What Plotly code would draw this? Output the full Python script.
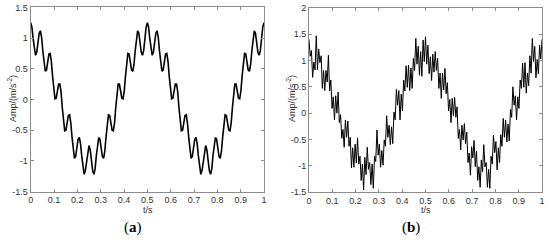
import plotly.graph_objects as go

# sampling step of both records (s)
dt = 1 / 192

# (a) clean vibration signal
amp_a = [1.25, 1.18, .99, .80, .72, .77, .92, 1.08, 1.12, 1.01, .79, .57, .46, .48, .61, .74,
         .75, .62, .38, .14, .01, .02, .13, .25, .25, .12, -.13, -.38, -.51, -.50, -.38, -.26,
         -.25, -.38, -.61, -.84, -.96, -.93, -.79, -.65, -.62, -.72, -.92, -1.13, -1.22, -1.16, -.99, -.82,
         -.75, -.82, -.99, -1.16, -1.22, -1.13, -.92, -.72, -.62, -.65, -.79, -.93, -.96, -.84, -.61, -.38,
         -.25, -.26, -.38, -.50, -.51, -.38, -.13, .12, .25, .25, .13, .02, .01, .14, .38, .62,
         .75, .74, .61, .48, .46, .57, .79, 1.01, 1.12, 1.08, .92, .77, .72, .80, .99, 1.18,
         1.25, 1.18, .99, .80, .72, .77, .92, 1.08, 1.12, 1.01, .79, .57, .46, .48, .61, .74,
         .75, .62, .38, .14, .01, .02, .13, .25, .25, .12, -.13, -.38, -.51, -.50, -.38, -.26,
         -.25, -.38, -.61, -.84, -.96, -.93, -.79, -.65, -.62, -.72, -.92, -1.13, -1.22, -1.16, -.99, -.82,
         -.75, -.82, -.99, -1.16, -1.22, -1.13, -.92, -.72, -.62, -.65, -.79, -.93, -.96, -.84, -.61, -.38,
         -.25, -.26, -.38, -.50, -.51, -.38, -.13, .12, .25, .25, .13, .02, .01, .14, .38, .62,
         .75, .74, .61, .48, .46, .57, .79, 1.01, 1.12, 1.08, .92, .77, .72, .80, .99, 1.18,
         1.25]

# (b) noisy record
amp_b = [1.40, 1.08, 1.19, .68, .97, .82, 1.47, .83, 1.22, .96, 1.09, .47, .81, .43, .81, .59,
         1.10, .42, .63, .09, .31, -.13, .33, .00, .40, -.18, -.03, -.48, -.31, -.65, -.13, -.46,
         -.15, -.63, -.46, -1.04, -.66, -1.03, -.59, -.95, -.47, -.97, -.82, -1.28, -.97, -1.46, -.84, -1.17,
         -.65, -1.07, -.94, -1.36, -.97, -1.43, -.82, -.92, -.32, -.80, -.59, -1.03, -.71, -.99, -.51, -.63,
         -.05, -.46, -.23, -.60, -.26, -.58, .02, -.13, .45, .15, .43, -.13, .36, .04, .63, .42,
         .90, .49, .91, .43, .86, .47, 1.04, .81, 1.42, .93, 1.27, .72, 1.17, .70, 1.39, .98,
         1.45, .93, 1.29, .75, 1.07, .62, 1.12, .78, 1.17, .81, 1.04, .47, .76, .28, .76, .44,
         .85, .37, .58, .04, .26, -.18, .28, -.05, .30, -.08, .12, -.48, -.31, -.70, -.23, -.51,
         -.20, -.58, -.36, -.94, -.76, -1.18, -.64, -.85, -.52, -1.02, -.72, -1.28, -1.02, -1.41, -.89, -1.12,
         -.60, -1.02, -.94, -1.41, -1.07, -1.43, -.82, -.97, -.42, -.75, -.54, -1.08, -.66, -.94, -.41, -.63,
         -.10, -.46, -.13, -.55, -.21, -.53, .07, -.08, .50, .15, .33, -.13, .31, .09, .63, .47,
         .95, .49, .96, .38, .76, .52, 1.09, .76, 1.42, .98, 1.27, .67, 1.02, .75, 1.29, 1.03,
         1.40]

t_a = [i * dt for i in range(len(amp_a))]
t_b = [i * dt for i in range(len(amp_b))]

x_ticks = [0, 0.1, 0.2, 0.3, 0.4, 0.5, 0.6, 0.7, 0.8, 0.9, 1]
x_labels = ['0', '0.1', '0.2', '0.3', '0.4', '0.5', '0.6', '0.7', '0.8', '0.9', '1']
ya_ticks = [-1.5, -1, -0.5, 0, 0.5, 1, 1.5]
ya_labels = ['-1.5', '-1', '-0.5', '0', '0.5', '1', '1.5']
yb_ticks = [-1.5, -1, -0.5, 0, 0.5, 1, 1.5, 2]
yb_labels = ['-1.5', '-1', '-0.5', '0', '0.5', '1', '1.5', '2']

fig = go.Figure()
fig.add_trace(go.Scatter(x=t_a, y=amp_a, mode='lines', line=dict(color='black', width=1.6),
                         xaxis='x', yaxis='y', showlegend=False))
fig.add_trace(go.Scatter(x=t_b, y=amp_b, mode='lines', line=dict(color='black', width=1),
                         xaxis='x2', yaxis='y2', showlegend=False))

axis_style = dict(showline=True, linecolor='#8c8c8c', linewidth=1, mirror='allticks',
                  ticks='inside', ticklen=3, tickcolor='#8c8c8c', showgrid=False, zeroline=False,
                  automargin=False,
                  tickfont=dict(family='Liberation Sans', size=9, color='#333333'))

fig.update_layout(
    width=550, height=240,
    margin=dict(l=0, r=0, t=0, b=0, autoexpand=False),
    paper_bgcolor='white', plot_bgcolor='white',
    xaxis=dict(domain=[0.0558, 0.48], range=[0, 1], tickvals=x_ticks, ticktext=x_labels,
               anchor='y', **axis_style),
    yaxis=dict(domain=[0.202, 0.969], range=[-1.5, 1.5], tickvals=ya_ticks, ticktext=ya_labels,
               anchor='x', **axis_style),
    xaxis2=dict(domain=[0.5618, 0.9855], range=[0, 1], tickvals=x_ticks, ticktext=x_labels,
                anchor='y2', **axis_style),
    yaxis2=dict(domain=[0.2, 0.967], range=[-1.5, 2], tickvals=yb_ticks, ticktext=yb_labels,
                anchor='x2', **axis_style),
)

label_font = dict(family='Liberation Sans', size=9, color='#333333')
for xc, xl in [(12, 148), (291, 426)]:
    fig.add_annotation(text='Amp/(m/s<sup>-2</sup>)', x=xc / 550, y=0.5875, xref='paper', yref='paper',
                       xanchor='center', yanchor='middle', textangle=-90, showarrow=False,
                       font=label_font)
    fig.add_annotation(text='t/s', x=xl / 550, y=1 - 210 / 240, xref='paper', yref='paper',
                       xanchor='center', yanchor='middle', showarrow=False, font=label_font)

for xc, tag in [(133, 'a'), (411, 'b')]:
    fig.add_annotation(text='(<b>' + tag + '</b>)', x=xc / 550, y=1 - 227 / 240, xref='paper',
                       yref='paper', xanchor='center', yanchor='middle', showarrow=False,
                       font=dict(family='Liberation Serif', size=15, color='black'))

# drop the browser's default page margin so the figure sits at the window corner
fig.write_html("out.html", config={'displayModeBar': False},
               post_script="document.body.style.margin='0';")
